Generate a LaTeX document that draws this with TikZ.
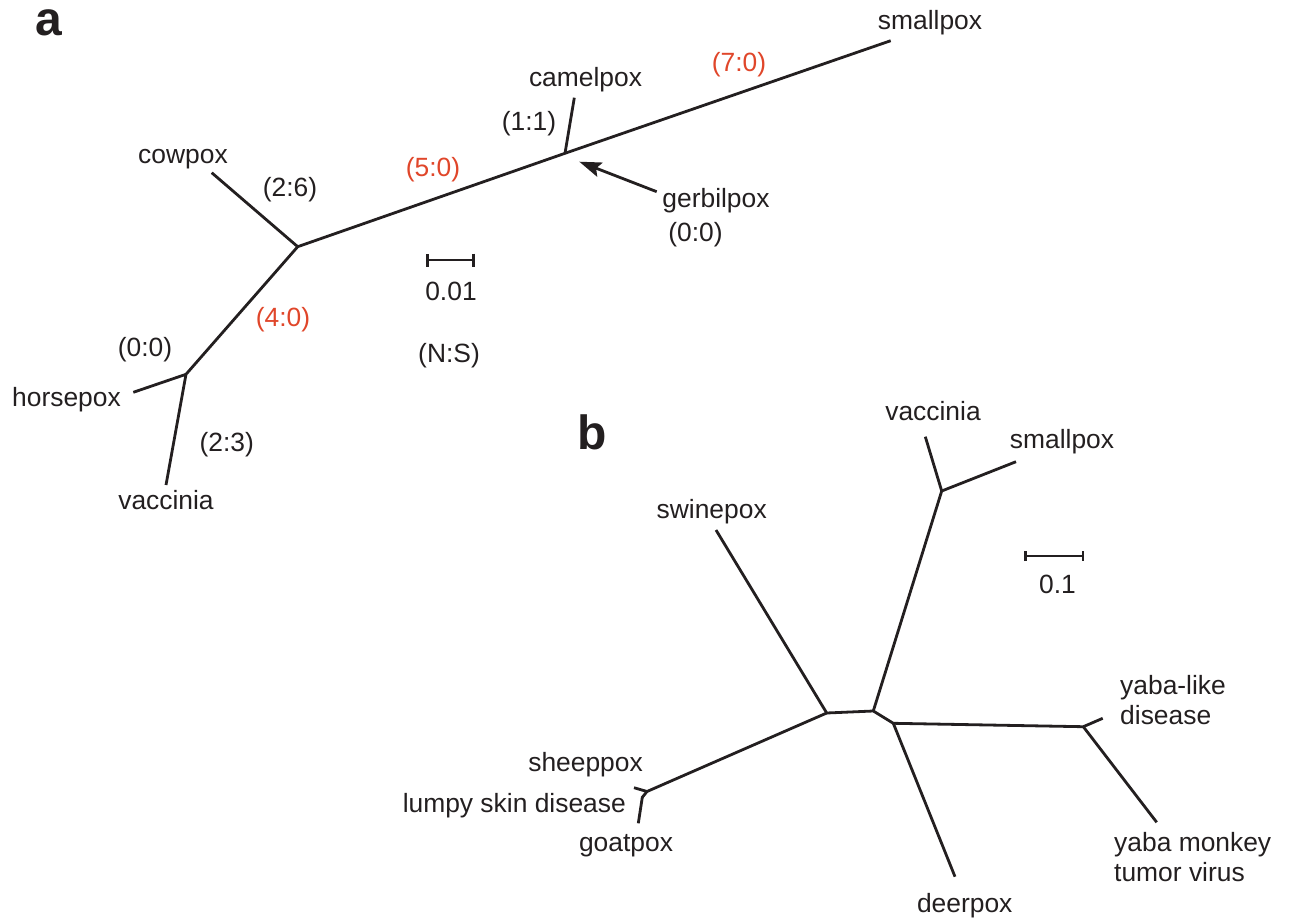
\documentclass[tikz,border=0pt]{standalone}
\usepackage{fontspec}
\setmainfont{Liberation Sans}
\usetikzlibrary{arrows.meta}
\definecolor{ink}{RGB}{35,31,32}
\definecolor{fastred}{RGB}{224,70,42}
\tikzset{
  branch/.style={draw=ink, line width=2.8pt, line cap=butt, line join=miter},
  lbl/.style={inner sep=0pt, anchor=base, text=ink, font=\fontsize{26.4}{30}\selectfont},
  redlbl/.style={lbl, text=fastred},
  panel/.style={inner sep=0pt, anchor=base, text=ink, font=\fontsize{48}{48}\selectfont\bfseries},
  scalebar/.style={draw=ink, line width=2.8pt, {Bar[width=#1]}-{Bar[width=#1]}},
  pointer/.style={draw=ink, line width=2.8pt, -{Stealth[length=22pt,width=15pt,inset=4pt]}}
}
\begin{document}
\begin{tikzpicture}[x=1pt,y=-1pt]
\useasboundingbox (0,0) rectangle (1289,920);

% ---------------- panel a: orthopoxviruses ----------------
\node[panel] (pa) at (48.5,36) {a};

\coordinate (aRoot)   at (297.7,246.7);
\coordinate (aCamel)  at (565,153.3);
\coordinate (aHorse)  at (186,374.3);
\coordinate (aCowE)   at (211.7,172.7);
\coordinate (aSmallE) at (890.7,40.7);
\coordinate (aCamelE) at (574.3,97.7);
\coordinate (aHorseE) at (133.3,392.3);
\coordinate (aVaccE)  at (166,485);
\coordinate (aGerbT)  at (656.7,191.7);
\coordinate (aGerbH)  at (579.3,161.7);

\draw[branch] (aCowE) -- (aRoot) -- (aCamel) -- (aSmallE);
\draw[branch] (aCamel) -- (aCamelE);
\draw[branch] (aRoot) -- (aHorse) -- (aVaccE);
\draw[branch] (aHorse) -- (aHorseE);
\draw[pointer] (aGerbT) -- (aGerbH);

\node[lbl] (tCow)    at (183,163.3)   {cowpox};
\node[lbl] (tSmallA) at (930,30)      {smallpox};
\node[lbl] (tCamel)  at (585.5,86.7)  {camelpox};
\node[lbl] (tGerb)   at (716,207.7)   {gerbilpox};
\node[lbl] (tGerbNS) at (695.5,241.7) {(0:0)};
\node[lbl] (tHorse)  at (66.5,406.7)  {horsepox};
\node[lbl] (tVaccA)  at (166,509.3)   {vaccinia};

\node[lbl]    (n11) at (529,131)     {(1:1)};
\node[redlbl] (n70) at (739,71.7)    {(7:0)};
\node[redlbl] (n50) at (433,176.7)   {(5:0)};
\node[lbl]    (n26) at (290,196.7)   {(2:6)};
\node[redlbl] (n40) at (283,326)     {(4:0)};
\node[lbl]    (n00) at (145,356.7)   {(0:0)};
\node[lbl]    (n23) at (226.7,451.7) {(2:3)};

\coordinate (aBarL) at (426,260);
\coordinate (aBarR) at (475,260);
\draw[scalebar=13pt] (aBarL) -- (aBarR);
\node[lbl] (tBarA) at (451,300)   {0.01};
\node[lbl] (tNS)   at (449,362.3) {(N:S)};

% ---------------- panel b: poxvirus genera ----------------
\node[panel] (pb) at (592.5,449) {b};

\coordinate (bL)      at (826.7,713);
\coordinate (bM)      at (873.3,711);
\coordinate (bR)      at (893.3,723.3);
\coordinate (bV)      at (941.7,491);
\coordinate (bY)      at (1083.3,726.7);
\coordinate (bS)      at (647,791.5);
\coordinate (bG)      at (642.3,797.3);
\coordinate (bVaccE)  at (925.3,436.7);
\coordinate (bSmallE) at (1016,461.7);
\coordinate (bSwineE) at (716,530);
\coordinate (bYlE)    at (1102.7,718.3);
\coordinate (bYmE)    at (1156.7,822.3);
\coordinate (bDeerE)  at (955,876.7);
\coordinate (bSheepE) at (634,787.7);
\coordinate (bGoatE)  at (638.3,823.3);

\draw[branch] (bSwineE) -- (bL) -- (bM) -- (bR) -- (bY) -- (bYlE);
\draw[branch] (bM) -- (bV) -- (bSmallE);
\draw[branch] (bV) -- (bVaccE);
\draw[branch] (bY) -- (bYmE);
\draw[branch] (bR) -- (bDeerE);
\draw[branch] (bL) -- (bS) -- (bSheepE);
\draw[branch] (bS) -- (bG) -- (bGoatE);

\node[lbl] (tVaccB)  at (933,420)     {vaccinia};
\node[lbl] (tSmallB) at (1062,448.3)  {smallpox};
\node[lbl] (tSwine)  at (711.7,518.3) {swinepox};
% multi-line labels: the base anchor sits on the last line
\node[lbl, anchor=base west, align=left] (tYl) at (1120,724) {yaba-like\\disease};
\node[lbl, anchor=base west, align=left] (tYm) at (1114,881.7) {yaba monkey\\tumor virus};
\node[lbl] (tDeer)   at (964.7,912.7) {deerpox};
\node[lbl, anchor=base east] (tSheep) at (643,771)   {sheeppox};
\node[lbl, anchor=base east] (tLumpy) at (626,812.7) {lumpy skin disease};
\node[lbl] (tGoat)   at (626,851.7)   {goatpox};

\coordinate (bBarL) at (1024.3,556);
\coordinate (bBarR) at (1084.3,556);
\draw[scalebar=10pt] (bBarL) -- (bBarR);
\node[lbl] (tBarB) at (1057.5,593.3) {0.1};
\end{tikzpicture}
\end{document}
